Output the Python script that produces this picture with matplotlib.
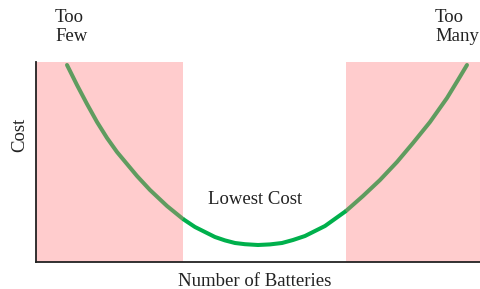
import matplotlib.pyplot as plt

# curve (x: 0-100 along the axis, y: 0-100 cost)
x = [6.97, 9.21, 11.46, 13.71, 15.96, 18.20, 20.45, 22.70, 25.62, 29.44, 33.03,
     35.73, 40.22, 42.47, 44.72, 46.97, 49.89, 52.58, 55.28, 57.75, 60.45, 64.94,
     69.66, 73.48, 77.30, 81.12, 84.72, 88.54, 92.36, 94.83, 96.85]
y = [98.5, 88.5, 79.0, 70.0, 62.0, 55.0, 49.0, 43.0, 36.0, 28.0, 21.5,
     17.5, 12.5, 10.8, 9.5, 8.9, 8.5, 8.8, 9.5, 11.0, 13.0, 18.0,
     25.5, 33.0, 41.0, 50.0, 59.5, 70.0, 82.0, 91.0, 98.5]

too_few = (0, 33.03)
too_many = (69.66, 100)
best_range = (33.03, 69.66)

plt.rcParams['font.family'] = ['Liberation Serif', 'DejaVu Serif']
txt_color = '#222222'

fig = plt.figure(figsize=(4.81, 2.89), dpi=100)
ax = fig.add_axes([36 / 481, 27 / 289, 445 / 481, 200 / 289])

for lo, hi in (too_few, too_many):
    ax.axvspan(lo, hi, ymin=0, ymax=1, color='#ffcccd', lw=0, zorder=0)

# split curve into bad / good / bad parts
i0 = x.index(best_range[0])
i1 = x.index(best_range[1])
kw = dict(lw=2.9, solid_joinstyle='round')
ax.plot(x[:i0 + 1], y[:i0 + 1], color='#5f9c5f', solid_capstyle='round', zorder=2, **kw)
ax.plot(x[i0:i1 + 1], y[i0:i1 + 1], color='#00b04c', solid_capstyle='butt', zorder=3, **kw)
ax.plot(x[i1:], y[i1:], color='#5f9c5f', solid_capstyle='round', zorder=2, **kw)

ax.set_xlim(0, 100)
ax.set_ylim(0, 100)
ax.set_xticks([])
ax.set_yticks([])
for s in ('top', 'right'):
    ax.spines[s].set_visible(False)
for s in ('left', 'bottom'):
    ax.spines[s].set_color('#222222')
    ax.spines[s].set_linewidth(1.3)

ax.text(49.2, 31, 'Lowest Cost', ha='center', va='center', fontsize=13.5, color=txt_color)

fig.text(55 / 481, 1 - 9 / 289, 'Too\nFew', ha='left', va='top', fontsize=13.5,
         color=txt_color, linespacing=1.15)
fig.text(435 / 481, 1 - 9 / 289, 'Too\nMany', ha='left', va='top', fontsize=13.5,
         color=txt_color, linespacing=1.15)
fig.text(254.5 / 481, 1 - 282 / 289, 'Number of Batteries', ha='center', va='center',
         fontsize=13.5, color=txt_color)
fig.text(20 / 481, 1 - 135 / 289, 'Cost', ha='center', va='center', rotation=90,
         fontsize=13.5, color=txt_color)

fig.savefig('out.png', dpi=100)
